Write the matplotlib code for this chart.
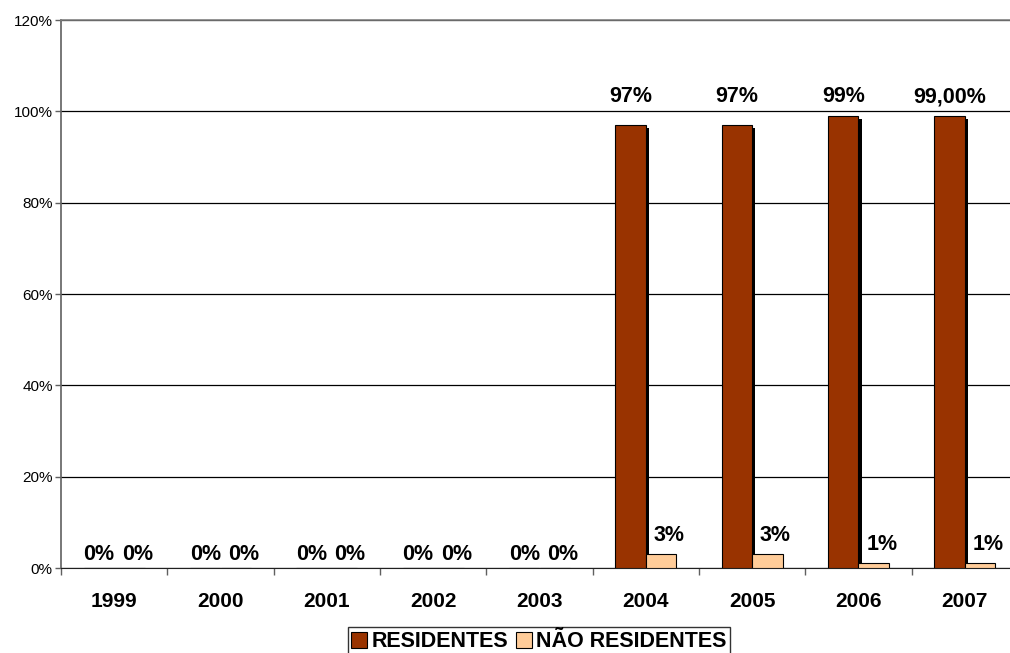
import matplotlib
matplotlib.use("Agg")
import matplotlib.pyplot as plt
import matplotlib.patheffects as pe
import numpy as np

years = ["1999", "2000", "2001", "2002", "2003", "2004", "2005", "2006", "2007"]
residentes = [0, 0, 0, 0, 0, 97, 97, 99, 99]
nao_residentes = [0, 0, 0, 0, 0, 3, 3, 1, 1]
res_labels = ["0%", "0%", "0%", "0%", "0%", "97%", "97%", "99%", "99,00%"]
nres_labels = ["0%", "0%", "0%", "0%", "0%", "3%", "3%", "1%", "1%"]
series_names = ["RESIDENTES", "NÃO RESIDENTES"]
yticks = [0, 20, 40, 60, 80, 100, 120]

plt.rcParams['font.family'] = ['Liberation Sans', 'DejaVu Sans']

fig = plt.figure(figsize=(10.1, 6.53), dpi=100)
W, H = 1010, 653
ax = fig.add_axes([61 / W, (H - 568) / H, (1018 - 61) / W, (568 - 20) / H])

x = np.arange(len(years))
bw = 0.287
c_res = "#993300"
c_nres = "#FFCC99"

b1 = ax.bar(x - bw / 2, residentes, bw, color=c_res, edgecolor="black", linewidth=0.8, zorder=3,
            label=series_names[0])
for p in b1:
    p.set_path_effects([pe.SimplePatchShadow(offset=(2.3, -2.3), shadow_rgbFace="black", alpha=1.0),
                        pe.Normal()])
b2 = ax.bar(x + bw / 2, nao_residentes, bw, color=c_nres, edgecolor="black", linewidth=0.8, zorder=4,
            label=series_names[1])

ax.set_ylim(0, 120)
ax.set_xlim(-0.5, len(years) - 0.5)
ax.set_yticks(yticks)
ax.set_yticklabels([f"{v}%" for v in yticks], fontsize=11)
ax.yaxis.grid(True, color="black", linewidth=0.9, zorder=0)
ax.set_axisbelow(True)

ax.set_xticks(x)
ax.set_xticklabels(years, fontsize=15, fontweight="bold")
ax.set_xticks(np.arange(len(years) + 1) - 0.5, minor=True)
ax.tick_params(axis="x", which="major", length=0, pad=17)
ax.tick_params(axis="x", which="minor", length=5, color="#606060", width=1)
ax.tick_params(axis="y", length=4, color="#606060", width=1, pad=2)

ax.spines["right"].set_visible(False)
ax.spines["top"].set_color("#808080")
ax.spines["left"].set_color("#606060")
ax.spines["bottom"].set_color("#202020")
ax.spines["left"].set_linewidth(1.2)
ax.spines["top"].set_linewidth(1.2)

lab_fs = 15.5
for i in range(len(years)):
    if residentes[i] > 50:
        ax.text(x[i] - bw / 2, 103.2, res_labels[i], ha="center", va="center",
                fontsize=lab_fs, fontweight="bold", zorder=6)
    else:
        ax.annotate(res_labels[i], (x[i] - bw / 2, residentes[i]), xytext=(0, 14),
                    textcoords="offset pixels", ha="center", va="center",
                    fontsize=lab_fs, fontweight="bold", zorder=6)
    off = 14 if nao_residentes[i] == 0 else 19
    ax.annotate(nres_labels[i], (x[i] + bw / 2, nao_residentes[i]), xytext=(8, off),
                textcoords="offset pixels", ha="center", va="center",
                fontsize=lab_fs, fontweight="bold", zorder=6)

handles = [plt.Line2D([], [], marker="s", linestyle="none", markersize=11,
                      markerfacecolor=c, markeredgecolor="black", markeredgewidth=0.8)
           for c in (c_res, c_nres)]
leg = fig.legend(handles, series_names, loc="upper center",
                 bbox_to_anchor=(539 / W, 1 - 627 / H), ncol=2,
                 prop={"weight": "bold", "size": 15.5}, frameon=True, fancybox=False,
                 edgecolor="black", handlelength=0.7, handletextpad=0.2,
                 columnspacing=0.4, borderpad=0.2, borderaxespad=0)
leg.get_frame().set_linewidth(1.0)

fig.savefig("out.png", dpi=100)
